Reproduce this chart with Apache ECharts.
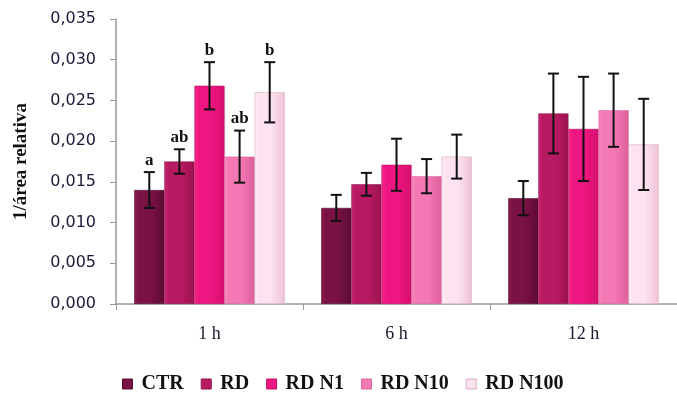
<!DOCTYPE html>
<html>
<head>
<meta charset="utf-8">
<script src="https://cdn.jsdelivr.net/npm/echarts@6/dist/echarts.min.js"></script>
<style>
  html, body { margin: 0; padding: 0; background: #fff; }
  #main { width: 677px; height: 402px; }
</style>
</head>
<body>
<div id="main"></div>
<script>
// categorias e séries
var categories = ['1 h', '6 h', '12 h'];
var seriesNames = ['CTR', 'RD', 'RD N1', 'RD N10', 'RD N100'];
var ctrValues = [0.0140, 0.0118, 0.0130];
var rdValues = [0.0175, 0.0147, 0.0234];
var rdN1Values = [0.0268, 0.0171, 0.0215];
var rdN10Values = [0.0181, 0.0157, 0.0238];
var rdN100Values = [0.0260, 0.0181, 0.0196];
// desvio (barras de erro)
var ctrErr = [0.0022, 0.0016, 0.0021];
var rdErr = [0.0015, 0.0014, 0.0049];
var rdN1Err = [0.0029, 0.0032, 0.0064];
var rdN10Err = [0.0032, 0.0021, 0.0045];
var rdN100Err = [0.0037, 0.0027, 0.0056];
// letras de significância (só 1 h)
var letters1h = ['a', 'ab', 'b', 'ab', 'b'];

var allValues = [ctrValues, rdValues, rdN1Values, rdN10Values, rdN100Values];
var allErr = [ctrErr, rdErr, rdN1Err, rdN10Err, rdN100Err];
var colors = [
    ['#8a1a4f', '#7a1244', '#5c0b32'],
    ['#c92570', '#b81a62', '#9c124f'],
    ['#f72a8b', '#ee1680', '#d60f6e'],
    ['#f98cc0', '#f478b4', '#dd5f9c'],
    ['#fff0f7', '#fde2ef', '#eec2d6']
];
var borders = ['#5a0c33', '#8e1450', '#c20f66', '#d56a9e', '#d9aec4'];

var chartDom = document.getElementById('main');
var myChart = echarts.init(chartDom);

function grad(c) { // gradiente horizontal p/ efeito 3D
    return new echarts.graphic.LinearGradient(0, 0, 1, 0, [
        { offset: 0, color: c[0] },
        { offset: 0.15, color: c[1] },
        { offset: 0.55, color: c[1] },
        { offset: 1, color: c[2] }
    ]);
}

var series = [];
for (var s = 0; s < seriesNames.length; s++) {
    series.push({
        name: seriesNames[s],
        type: 'bar',
        data: allValues[s],
        barGap: '0%',
        barCategoryGap: '19.5%',
        itemStyle: {
            color: grad(colors[s]),
            borderColor: borders[s],
            borderWidth: 0.6
        },
        emphasis: { disabled: true }
    });
}

// barras de erro
var errData = [];
for (var s = 0; s < seriesNames.length; s++) {
    for (var c = 0; c < categories.length; c++) {
        var v = allValues[s][c];
        var e = allErr[s][c];
        errData.push([c, s, v - e, v + e, c === 0 ? letters1h[s] : '']);
    }
}
series.push({
    type: 'custom',
    name: 'err',
    data: errData,
    z: 10,
    silent: true,
    renderItem: function (params, api) {
        var c = api.value(0);
        var s = api.value(1);
        var lo = api.coord([c, api.value(2)]);
        var hi = api.coord([c, api.value(3)]);
        var band = api.size([1, 0])[0];
        var bw = band * (1 - 0.195) / 5;
        var x = lo[0] + (s - 2) * bw;
        var cap = 5.5;
        var st = { stroke: '#111', lineWidth: 2 };
        var children = [
            { type: 'line', shape: { x1: x, y1: lo[1], x2: x, y2: hi[1] }, style: st },
            { type: 'line', shape: { x1: x - cap, y1: lo[1], x2: x + cap, y2: lo[1] }, style: st },
            { type: 'line', shape: { x1: x - cap, y1: hi[1], x2: x + cap, y2: hi[1] }, style: st }
        ];
        var txt = errData[params.dataIndex][4];
        if (txt) {
            children.push({
                type: 'text',
                style: {
                    text: txt, x: x, y: hi[1] - 3,
                    align: 'center', verticalAlign: 'bottom',
                    font: 'bold 17px "Liberation Serif"', fill: '#111'
                }
            });
        }
        return { type: 'group', children: children };
    }
});

var option = {
    animation: false,
    grid: { left: 116, top: 19, bottom: 98, width: 570 },
    legend: {
        data: seriesNames.map(function (n, i) {
            return { name: n, itemStyle: { color: colors[i][1], borderColor: borders[i], borderWidth: 1 } };
        }),
        bottom: 3,
        left: 117,
        icon: 'rect',
        itemWidth: 10,
        itemHeight: 10,
        itemGap: 17,
        textStyle: { fontFamily: 'Liberation Serif', fontWeight: 'bold', fontSize: 20, color: '#111', padding: [0, 0, 0, 4] }
    },
    xAxis: {
        type: 'category',
        data: categories,
        axisLine: { lineStyle: { color: '#999', width: 1.5 } },
        axisTick: { show: true, length: 6, lineStyle: { color: '#999' } },
        axisLabel: { margin: 21, fontFamily: 'Liberation Serif', fontSize: 18, color: '#1a1a2e' }
    },
    yAxis: {
        type: 'value',
        min: 0,
        max: 0.035,
        interval: 0.005,
        name: '1/área relativa',
        nameLocation: 'middle',
        nameGap: 85,
        nameTextStyle: { fontFamily: 'Liberation Serif', fontWeight: 'bold', fontSize: 19, color: '#111' },
        splitLine: { show: false },
        axisLine: { show: true, lineStyle: { color: '#999', width: 1.5 } },
        axisTick: { show: true, length: 6, lineStyle: { color: '#999' } },
        axisLabel: {
            margin: 20,
            fontFamily: 'DejaVu Sans',
            fontSize: 16,
            color: '#1a1a3a',
            formatter: function (v) { return v.toFixed(3).replace('.', ','); }
        }
    },
    series: series
};
option && myChart.setOption(option);
</script>
</body>
</html>
